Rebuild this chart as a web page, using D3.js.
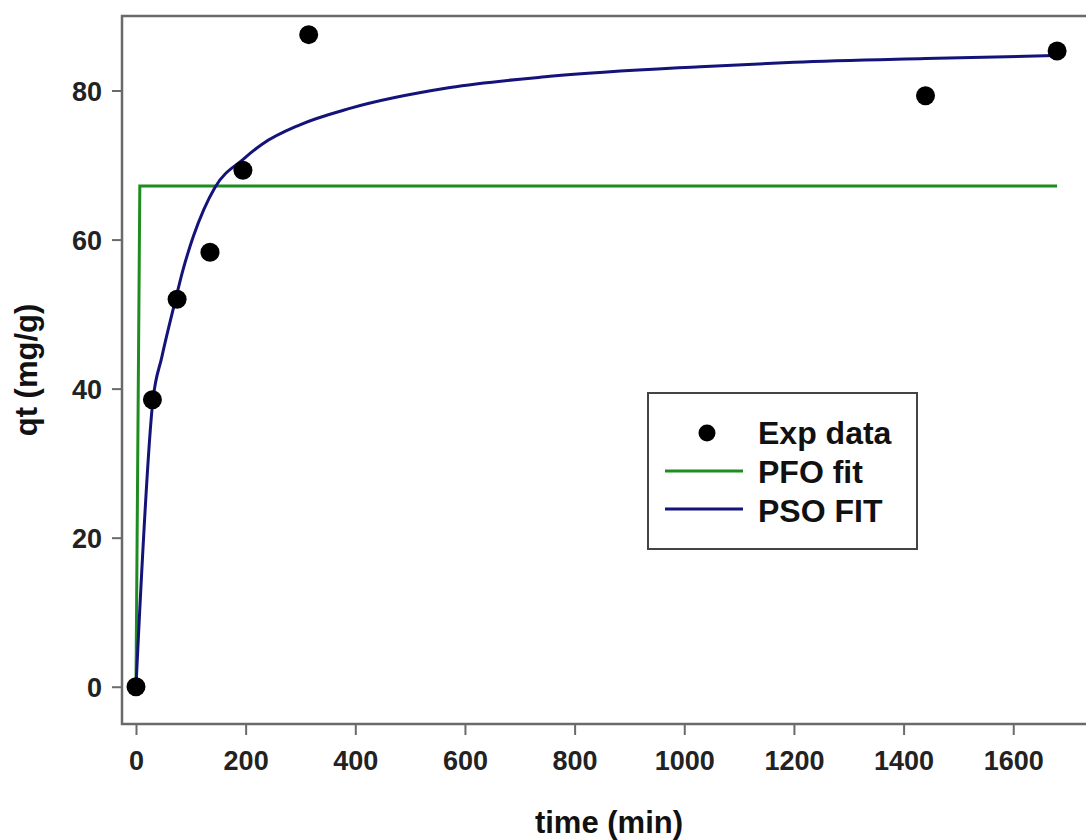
<!DOCTYPE html>
<html>
<head>
<meta charset="utf-8">
<script src="https://cdn.jsdelivr.net/npm/d3@7"></script>
<style>
  html, body { margin: 0; padding: 0; background: #fff; }
  svg { display: block; font-family: "Liberation Sans", Arial, sans-serif; }
</style>
</head>
<body>
<svg id="chart" width="1086" height="840"></svg>
<script>
// Experimental data
const expTime = [0, 30, 75, 135, 195, 315, 1440, 1680];
const expQt   = [0, 38.5, 52, 58.3, 69.3, 87.5, 79.3, 85.3];

// PFO fit
const pfoTime = [0, 7, 1680];
const pfoQt   = [0, 67.2, 67.2];

// PSO fit
const psoTime = [0, 31, 47, 70, 86, 105, 144, 196, 230, 299, 390, 573, 755, 1029, 1200, 1440, 1680];
const psoQt   = [0, 38.5, 44.2, 51.3, 56.0, 60.5, 67.0, 70.8, 72.8, 75.4, 77.6, 80.4, 81.9, 83.2, 83.8, 84.3, 84.7];

const xTicks = [0, 200, 400, 600, 800, 1000, 1200, 1400, 1600];
const yTicks = [0, 20, 40, 60, 80];

const legendLabels = ["Exp data", "PFO fit", "PSO FIT"];
const pfoColor = "#1f8c1f";
const psoColor = "#13137a";

const svg = d3.select("#chart");
const L = 122, T = 16, B = 724, R = 1090;

const x = d3.scaleLinear().domain([-25.5, 1740]).range([L, R]);
const y = d3.scaleLinear().domain([-5, 90]).range([B, T]);

// axes
const xAxis = d3.axisBottom(x).tickValues(xTicks).tickFormat(d3.format("d"))
  .tickSize(11).tickPadding(16).tickSizeOuter(0);
const yAxis = d3.axisLeft(y).tickValues(yTicks).tickFormat(d3.format("d"))
  .tickSize(10).tickPadding(10).tickSizeOuter(0);

const gx = svg.append("g").attr("transform", `translate(0,${B})`).call(xAxis);
const gy = svg.append("g").attr("transform", `translate(${L},0)`).call(yAxis);
[gx, gy].forEach(g => {
  g.select(".domain").remove();
  g.selectAll(".tick line").attr("stroke", "#6a6a6a").attr("stroke-width", 2);
  g.selectAll(".tick text")
    .attr("fill", "#222")
    .style("font-size", "27px")
    .style("font-weight", "bold")
    .style("font-family", "'Liberation Sans', Arial, sans-serif");
});
gy.selectAll(".tick text").attr("dy", "0.36em");

// plot box
svg.append("rect")
  .attr("x", L).attr("y", T).attr("width", R - L).attr("height", B - T)
  .attr("fill", "none").attr("stroke", "#6a6a6a").attr("stroke-width", 2.5);

// lines
const line = d3.line().x(d => x(d[0])).y(d => y(d[1]));
svg.append("path")
  .datum(pfoTime.map((t, i) => [t, pfoQt[i]]))
  .attr("d", line)
  .attr("fill", "none").attr("stroke", pfoColor).attr("stroke-width", 3);

svg.append("path")
  .datum(psoTime.map((t, i) => [t, psoQt[i]]))
  .attr("d", line.curve(d3.curveMonotoneX))
  .attr("fill", "none").attr("stroke", psoColor).attr("stroke-width", 3);

// points
svg.append("g").selectAll("circle")
  .data(expTime.map((t, i) => [t, expQt[i]]))
  .join("circle")
  .attr("cx", d => x(d[0])).attr("cy", d => y(d[1]))
  .attr("r", 9.5).attr("fill", "#000");

// axis titles
svg.append("text")
  .attr("x", 609).attr("y", 833)
  .attr("text-anchor", "middle")
  .style("font-size", "31px").style("font-weight", "bold").attr("fill", "#111")
  .text("time (min)");

svg.append("text")
  .attr("transform", "translate(37,370) rotate(-90)")
  .attr("text-anchor", "middle")
  .style("font-size", "31px").style("font-weight", "bold").attr("fill", "#111")
  .text("qt (mg/g)");

// legend
const lg = svg.append("g");
lg.append("rect")
  .attr("x", 648).attr("y", 393).attr("width", 269).attr("height", 156)
  .attr("fill", "#fff").attr("stroke", "#444").attr("stroke-width", 2);
lg.append("circle").attr("cx", 707).attr("cy", 433).attr("r", 8.5).attr("fill", "#000");
lg.append("line").attr("x1", 665).attr("x2", 743).attr("y1", 471).attr("y2", 471)
  .attr("stroke", pfoColor).attr("stroke-width", 3);
lg.append("line").attr("x1", 665).attr("x2", 743).attr("y1", 509).attr("y2", 509)
  .attr("stroke", psoColor).attr("stroke-width", 3);
lg.selectAll("text.leg")
  .data(legendLabels)
  .join("text")
  .attr("class", "leg")
  .attr("x", 758).attr("y", (d, i) => 444 + i * 39)
  .style("font-size", "32px").style("font-weight", "bold").attr("fill", "#111")
  .text(d => d);
</script>
</body>
</html>
